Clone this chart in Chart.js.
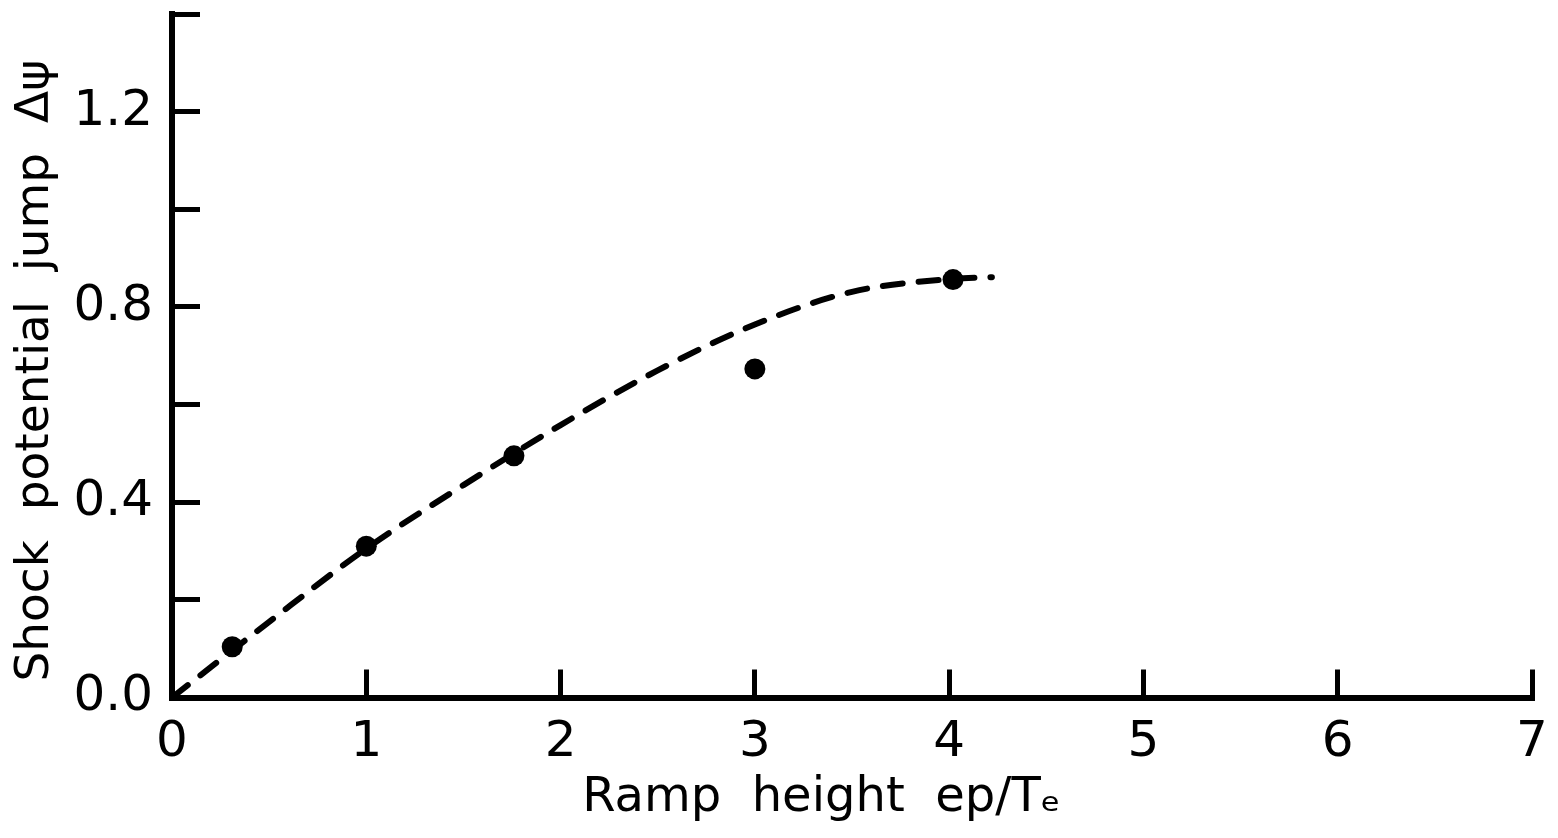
<!DOCTYPE html>
<html>
<head>
<meta charset="utf-8">
<script src="https://cdn.jsdelivr.net/npm/chart.js@4/dist/chart.umd.min.js"></script>
<style>
    body { margin: 0; background: #fff; }
    #wrap { width: 1558px; height: 838px; }
</style>
</head>
<body>
<div id="wrap"><canvas id="chartShock" width="1558" height="838"></canvas></div>
<script>
// measured points
var rampHeight    = [0.31, 1.0, 1.76, 3.0, 4.02];
var potentialJump = [0.104, 0.31, 0.495, 0.673, 0.856];

// dashed curve
var curveX = [0, 0.5, 1.0, 1.5, 2.0, 2.5, 3.0, 3.5, 4.0, 4.22];
var curveY = [0, 0.155, 0.305, 0.435, 0.558, 0.67, 0.764, 0.831, 0.857, 0.861];

var yLabelTicks = [0.0, 0.4, 0.8, 1.2];

Chart.defaults.font.family = "'DejaVu Sans', sans-serif";
Chart.defaults.color = '#000';

var pointData = rampHeight.map(function (x, i) { return {x: x, y: potentialJump[i]} });
var curveData = curveX.map(function (x, i) { return {x: x, y: curveY[i]} });

// keep the tick padding from pushing the plot area in
function noOverflow(scale) {
    scale.paddingTop = 0
    scale.paddingBottom = 0
    scale.paddingLeft = 0
    scale.paddingRight = 0
}

var ctx = document.getElementById('chartShock').getContext('2d');
new Chart(ctx, {
    type: 'scatter',
    data: {
        datasets: [
            {
                data            : pointData,
                backgroundColor : '#000',
                borderWidth     : 0,
                pointRadius     : 10.5,
                order           : 0
            },
            {
                type                   : 'line',
                data                   : curveData,
                borderColor            : '#000',
                borderWidth            : 6,
                borderDash             : [20, 16],
                borderCapStyle         : 'round',
                cubicInterpolationMode : 'monotone',
                pointRadius            : 0,
                pointHoverRadius       : 0,
                fill                   : false,
                order                  : 1
            }
        ]
    },
    options: {
        responsive : false,
        animation  : false,
        layout     : { padding: { left: 0, right: 26, top: 14, bottom: 0 } },
        plugins    : { legend: { display: false }, tooltip: { enabled: false } },
        scales: {
            x: {
                type : 'linear',
                min  : 0,
                max  : 7,
                afterFit: function (scale) { scale.height = 140.5; noOverflow(scale) },
                border : { display: true, color: '#000', width: 6 },
                grid   : { drawOnChartArea: false, drawTicks: true, tickLength: -28, tickWidth: 5, tickColor: '#000' },
                ticks  : {
                    stepSize : 1,
                    padding  : 44,
                    autoSkip : false,
                    maxRotation: 0,
                    font     : { size: 50 },
                    callback : function (v) { return String(v) }
                },
                title : {
                    display : true,
                    text    : 'Ramp  height  ep/T\u2091    ',
                    font    : { size: 48 },
                    padding : { top: 0, bottom: 11 }
                }
            },
            y: {
                min : 0,
                max : 1.4,
                afterFit: function (scale) { scale.width = 172; noOverflow(scale) },
                border : { display: true, color: '#000', width: 6 },
                grid   : { drawOnChartArea: false, drawTicks: true, tickLength: -28, tickWidth: 5, tickColor: '#000' },
                ticks  : {
                    stepSize : 0.2,
                    padding  : 47,
                    autoSkip : false,
                    font     : { size: 50 },
                    callback : function (v) {
                        var show = yLabelTicks.some(function (t) { return Math.abs(t - v) < 1e-6 })
                        return show ? v.toFixed(1) : ''
                    }
                },
                title : {
                    display : true,
                    text    : 'Shock  potential  jump  \u0394\u03c8  ',
                    font    : { size: 47 },
                    padding : { top: 8, bottom: 0 }
                }
            }
        }
    }
})
</script>
</body>
</html>
